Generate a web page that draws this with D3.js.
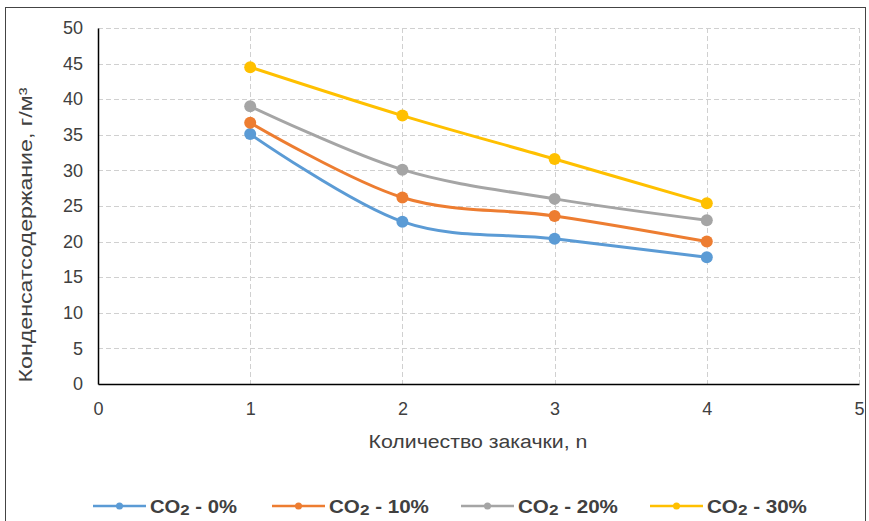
<!doctype html>
<html lang="ru">
  <head>
    <meta charset="utf-8">
    <title>Конденсатсодержание</title>
    <style>
      body { margin: 0; background: #fff; }
      svg { font-family: "Liberation Sans", Arial, sans-serif; }
    </style>
  </head>
  <body>
    <div class="container"></div>
    <script src="https://cdn.jsdelivr.net/npm/d3@7"></script>
    <script>

    // data
    var injections = [1, 2, 3, 4];
    var seriesNames = ["0%", "10%", "20%", "30%"];
    var co2_0  = [35.1, 22.8, 20.4, 17.8];
    var co2_10 = [36.7, 26.2, 23.6, 20.0];
    var co2_20 = [39.0, 30.1, 26.0, 23.0];
    var co2_30 = [44.5, 37.7, 31.6, 25.4];
    var xTicks = [0, 1, 2, 3, 4, 5];
    var yTicks = [0, 5, 10, 15, 20, 25, 30, 35, 40, 45, 50];

    var series = [co2_0, co2_10, co2_20, co2_30];
    var colors = ["#5b9bd5", "#ed7d31", "#a5a5a5", "#ffc000"];

    var width = 869, height = 521;
    var svg = d3.select(".container")
        .append("svg")
        .attr("width", width)
        .attr("height", height);

    // squeeze/stretch a text horizontally to the width seen in the picture
    function fitWidth(t, w, ox, oy) {
      var bw = t.node().getBBox().width;
      var k = w / bw;
      t.attr("transform", (t.attr("transform") || "") +
        " translate(" + ox + "," + oy + ") scale(" + k + ",1) translate(" + (-ox) + "," + (-oy) + ")");
    }

    // outer frame
    svg.append("rect")
      .attr("x", 5.5).attr("y", 7.5)
      .attr("width", 860).attr("height", 520)
      .attr("fill", "none")
      .attr("stroke", "#444")
      .attr("stroke-width", 1);

    var x = d3.scaleLinear().domain([0, 5]).range([98, 859]);
    var y = d3.scaleLinear().domain([0, 50]).range([384, 28]);

    // grid
    svg.append("g")
      .selectAll("line")
      .data(yTicks.slice(1))
      .join("line")
      .attr("x1", x(0)).attr("x2", x(5))
      .attr("y1", function(d){ return Math.round(y(d)) + 0.5; })
      .attr("y2", function(d){ return Math.round(y(d)) + 0.5; })
      .attr("stroke", "#d0d0d0")
      .attr("stroke-dasharray", "5,3");

    svg.append("g")
      .selectAll("line")
      .data(xTicks.slice(1))
      .join("line")
      .attr("x1", function(d){ return Math.round(x(d)) + 0.5; })
      .attr("x2", function(d){ return Math.round(x(d)) + 0.5; })
      .attr("y1", y(50)).attr("y2", y(0))
      .attr("stroke", "#d0d0d0")
      .attr("stroke-dasharray", "5,3");

    // axes
    var xAxis = svg.append("g")
      .attr("transform", "translate(0," + y(0) + ")")
      .call(d3.axisBottom(x).tickValues(xTicks).tickFormat(d3.format("d")).tickSize(0).tickPadding(18));
    var yAxis = svg.append("g")
      .attr("transform", "translate(" + x(0) + ",0)")
      .call(d3.axisLeft(y).tickValues(yTicks).tickFormat(d3.format("d")).tickSize(0).tickPadding(15));

    [xAxis, yAxis].forEach(function(g){
      g.select(".domain").attr("stroke", "#000").attr("stroke-width", 1.5);
      g.selectAll("text")
        .attr("font-family", "Liberation Sans, Arial, sans-serif")
        .attr("font-size", 18)
        .attr("fill", "#404040");
    });

    // lines
    var line = d3.line()
      .x(function(d, i){ return x(injections[i]); })
      .y(function(d){ return y(d); })
      .curve(d3.curveCatmullRom.alpha(0));

    series.forEach(function(s, k){
      svg.append("path")
        .datum(s)
        .attr("d", line)
        .attr("fill", "none")
        .attr("stroke", colors[k])
        .attr("stroke-width", 3);
      svg.append("g")
        .selectAll("circle")
        .data(s)
        .join("circle")
        .attr("cx", function(d, i){ return x(injections[i]); })
        .attr("cy", function(d){ return y(d); })
        .attr("r", 6)
        .attr("fill", colors[k]);
    });

    // axis titles
    var xt = svg.append("text")
      .attr("x", 478).attr("y", 448)
      .attr("text-anchor", "middle")
      .attr("font-size", 19)
      .attr("fill", "#404040")
      .text("Количество закачки, n");
    fitWidth(xt, 219, 478, 448);

    var yt = svg.append("text")
      .attr("transform", "translate(32,235) rotate(-90)")
      .attr("text-anchor", "middle")
      .attr("font-size", 18)
      .attr("fill", "#404040")
      .text("Конденсатсодержание, г/м³");
    fitWidth(yt, 295, 0, 0);

    // legend
    var legendX = [93, 272, 461, 650];
    var legendW = [87, 100, 100, 100];
    seriesNames.forEach(function(name, k){
      var g = svg.append("g").attr("transform", "translate(" + legendX[k] + ",506)");
      g.append("line")
        .attr("x1", 0).attr("x2", 53)
        .attr("stroke", colors[k]).attr("stroke-width", 2.5);
      g.append("circle")
        .attr("cx", 26.5).attr("r", 3.5).attr("fill", colors[k]);
      var t = g.append("text")
        .attr("x", 57).attr("y", 7)
        .attr("font-size", 18)
        .attr("font-weight", "bold")
        .attr("fill", "#404040");
      t.append("tspan").text("CO");
      t.append("tspan").attr("font-size", 15).attr("dy", 2).text("2");
      t.append("tspan").attr("dy", -2).text(" - " + name);
      fitWidth(t, legendW[k], 57, 0);
    });

    </script>
  </body>
</html>
